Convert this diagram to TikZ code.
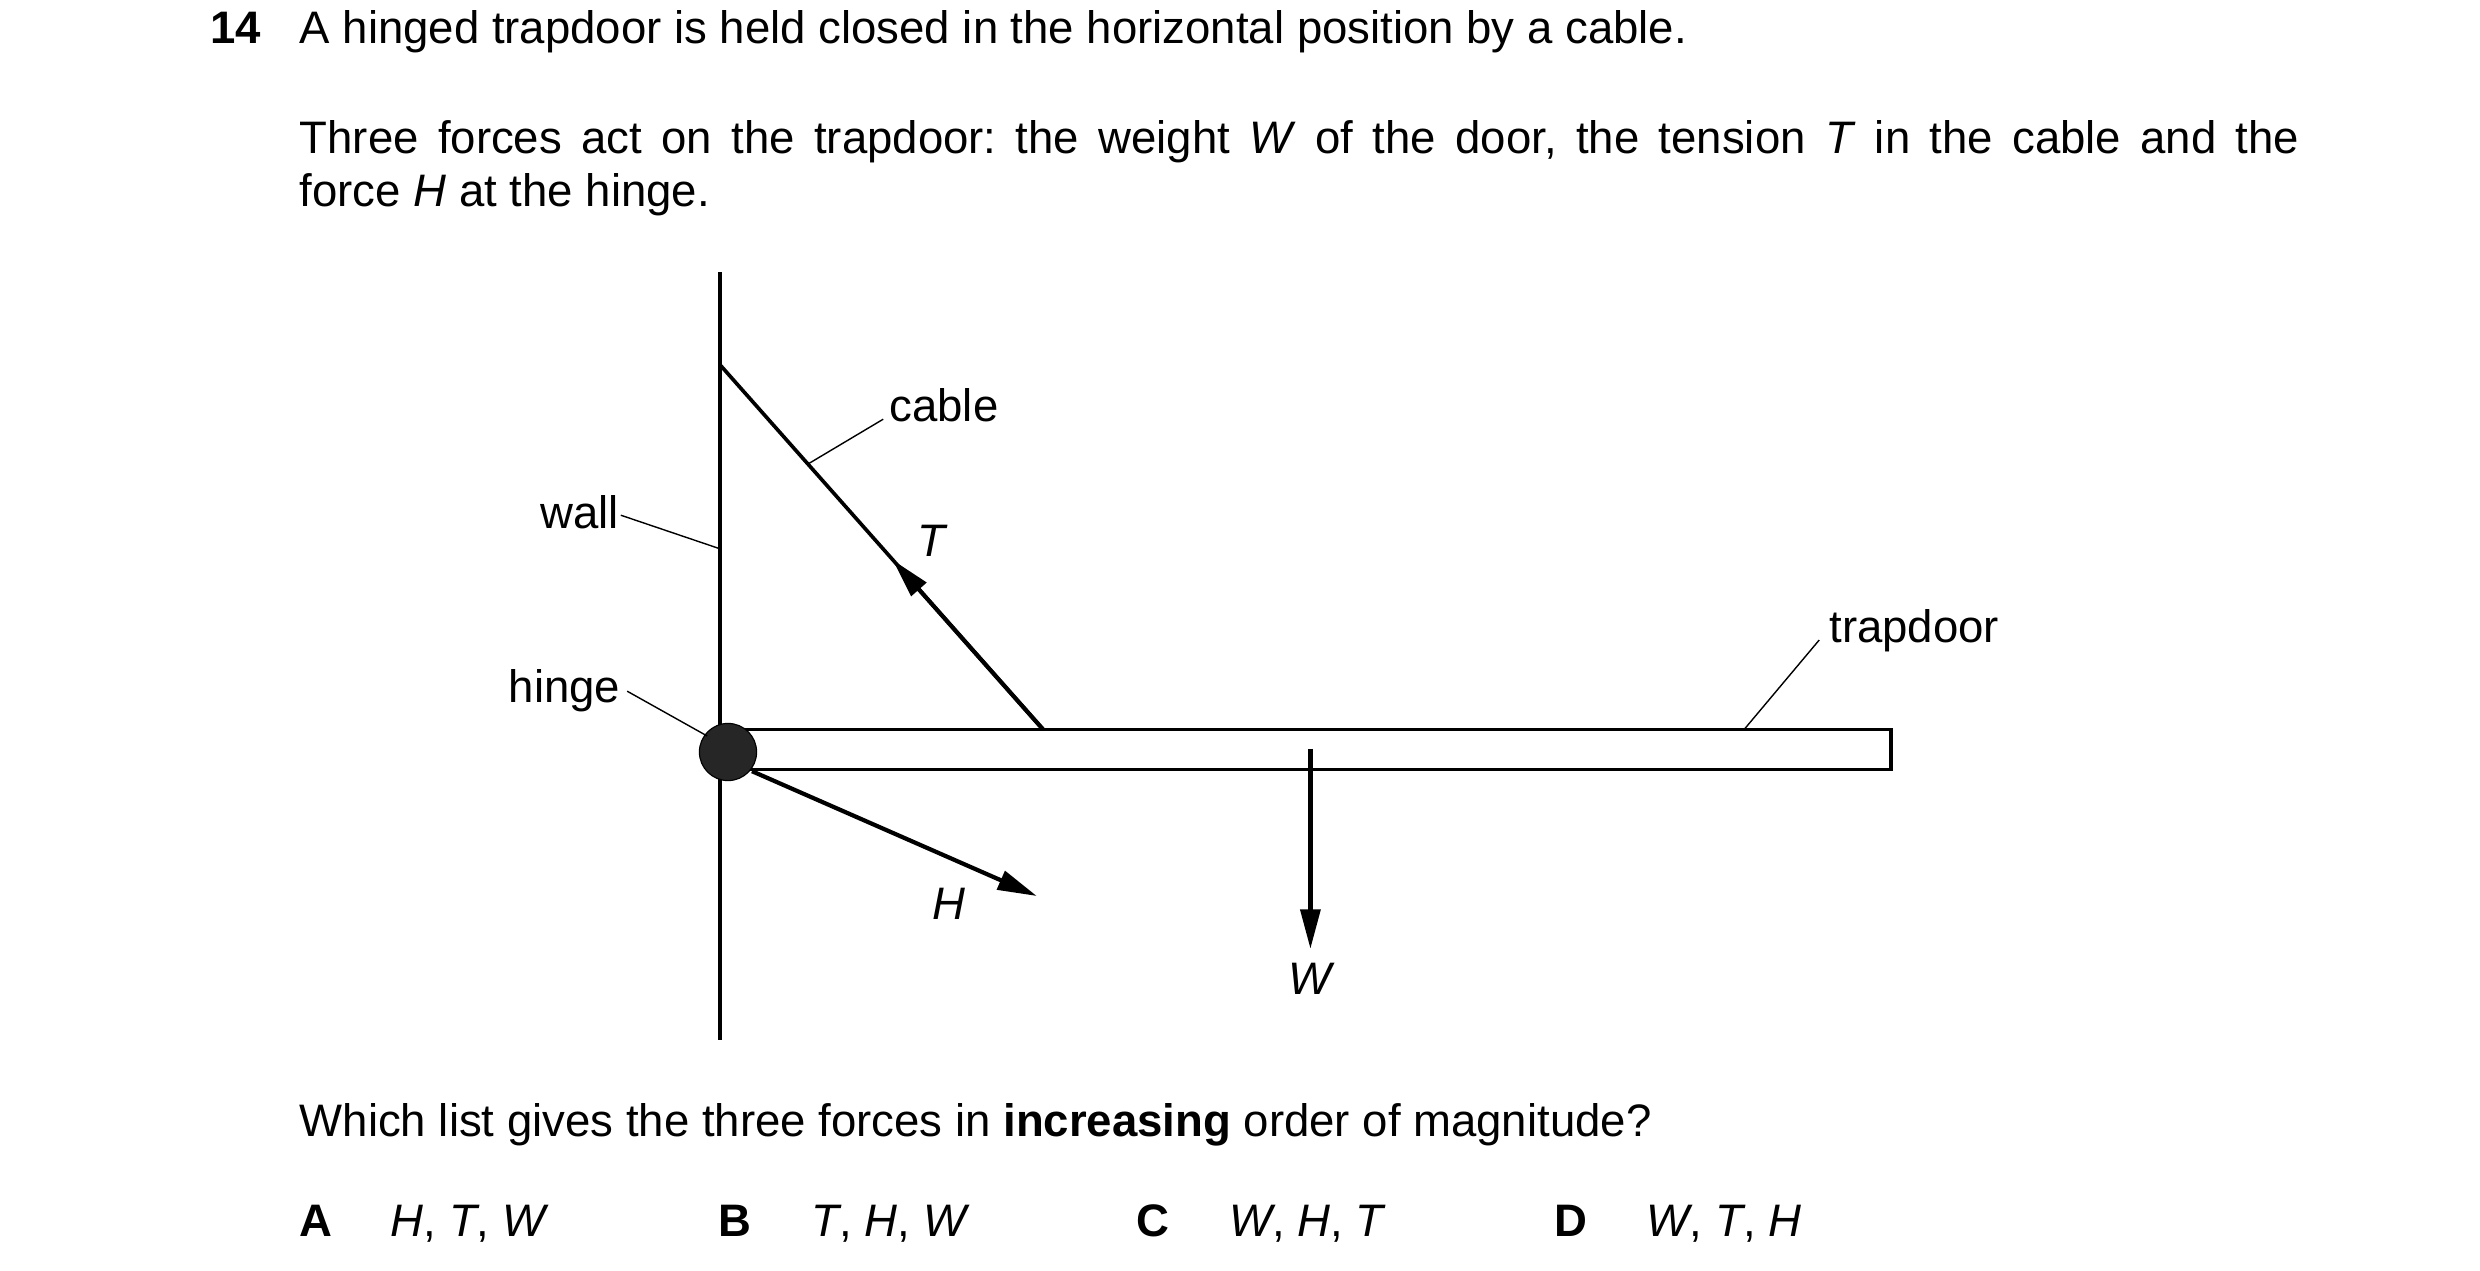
\documentclass[tikz,border=0pt]{standalone}
\usepackage{fontspec}
\setmainfont{Liberation Sans}
\usetikzlibrary{arrows.meta}
\frenchspacing
\begin{document}
\begin{tikzpicture}[x=0.02cm,y=-0.02cm,
  txt/.style={font=\fontsize{16.2}{18.8}\selectfont,inner sep=0},
  lead/.style={line width=0.5pt},
  main/.style={line width=1.3pt},
  force/.style={line width=1.5pt,-{Triangle[length=14pt,width=7pt]}}]
\useasboundingbox (0,0) rectangle (1550,794);
\node[txt,anchor=base west] (num) at (131,27) {\textbf{14}};
\node[txt,anchor=base west] (l1) at (187,27) {A hinged trapdoor is held closed in the horizontal position by a cable.};
\node[txt,anchor=north west,text width=25cm,align=justify] (p) at (187,75) {Three forces act on the trapdoor: the weight \textit{W} of the door, the tension \textit{T} in the cable and the\linebreak force \textit{H} at the hinge.};
% wall
\coordinate (wt) at (450,170); \coordinate (wb) at (450,650);
\draw[main] (wt) -- (wb);
% cable
\coordinate (ct) at (450,228); \coordinate (cb) at (652,456);
\draw[main] (ct) -- (cb);
\coordinate (tt) at (558,350);
\draw[force] (cb) -- (tt);
\node[txt] (T) at (583,338) {\textit{T}};
% trapdoor
\draw[main] (455,456) rectangle (1182,481);
\node[circle,fill=black!85,draw=black,inner sep=0,minimum size=0.715cm] (hinge) at (455,470) {};
% H
\coordinate (h1) at (470,482); \coordinate (h2) at (648,560);
\draw[force] (h1) -- (h2);
\node[txt] (H) at (593,565) {\textit{H}};
% W
\coordinate (w1) at (819,468); \coordinate (w2) at (819,593);
\draw[force] (w1) -- (w2);
\node[txt] (W) at (820,612) {\textit{W}};
% labels
\node[txt] (cable) at (590,253) {cable};
\draw[lead] (505,290) -- (552,262);
\node[txt,anchor=east] (wall) at (387,320) {wall};
\draw[lead] (388,322) -- (450,343);
\node[txt,anchor=east] (hl) at (388,432) {hinge};
\draw[lead] (392,432) -- (442,460);
\node[txt,anchor=west] (td) at (1143,394) {trapdoor};
\draw[lead] (1090,456) -- (1137,400);
% question
\node[txt,anchor=base west] (q) at (187,710) {Which list gives the three forces in \textbf{increasing} order of magnitude?};
\node[txt,anchor=base west] (A) at (187,773) {\textbf{A}};
\node[txt,anchor=base west] (Aa) at (244,773) {\textit{H}, \textit{T}, \textit{W}};
\node[txt,anchor=base west] (B) at (449,773) {\textbf{B}};
\node[txt,anchor=base west] (Ba) at (507,773) {\textit{T}, \textit{H}, \textit{W}};
\node[txt,anchor=base west] (C) at (710,773) {\textbf{C}};
\node[txt,anchor=base west] (Ca) at (768,773) {\textit{W}, \textit{H}, \textit{T}};
\node[txt,anchor=base west] (D) at (971,773) {\textbf{D}};
\node[txt,anchor=base west] (Da) at (1029,773) {\textit{W}, \textit{T}, \textit{H}};
\end{tikzpicture}
\end{document}
